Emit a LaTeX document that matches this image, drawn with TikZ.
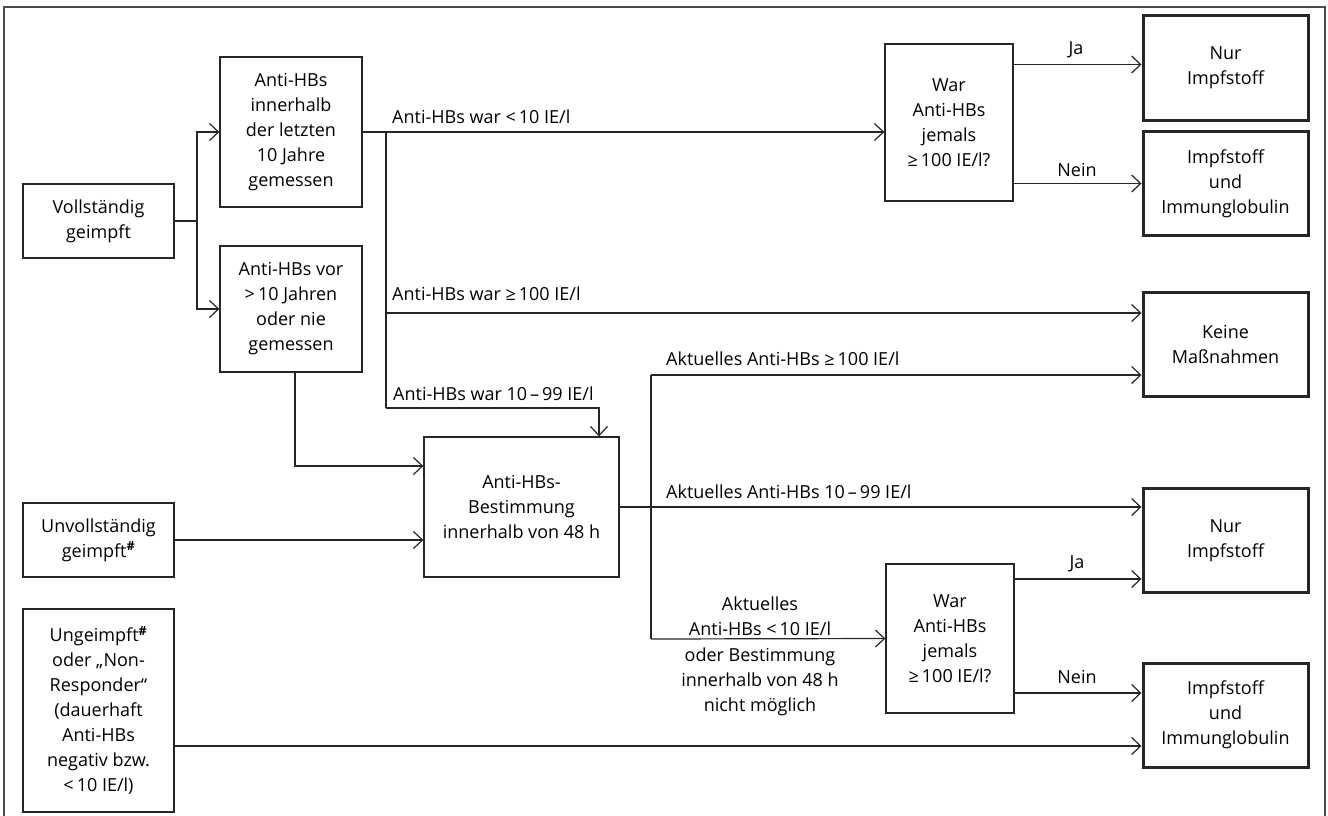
\documentclass[tikz,border=0pt]{standalone}
\usepackage{fontspec}
\setmainfont{Open Sans}
\usetikzlibrary{arrows.meta}

\begin{document}
\begin{tikzpicture}[x=1pt, y=-1pt,
    font=\fontsize{18}{25}\selectfont,
    box/.style={draw=black!85, line width=1.3pt, align=center, inner sep=0pt},
    result/.style={box, line width=3pt, minimum width=165pt, minimum height=104pt},
    link/.style={draw=black!85, line width=1.2pt},
    arr/.style={link, -{Straight Barb[length=9pt, width=17pt, line width=1.2pt]}},
    lab/.style={anchor=base west, inner sep=0pt}]
  \useasboundingbox (0,0) rectangle (1328,816);
  \draw[black!70, line width=1.5pt] (4,900) -- (4,7) -- (1325,7) -- (1325,900);

  % starting points
  \node[box, minimum width=151pt, minimum height=74pt] (voll) at (98.5,221)
    {Vollständig\\geimpft};
  \node[box, minimum width=151pt, minimum height=74pt] (unvoll) at (98.5,540)
    {Unvollständig\\geimpft\textsuperscript{\textbf{\#}}};
  \node[box, minimum width=151pt, minimum height=203pt] (unge) at (98.5,710.5)
    {Ungeimpft\textsuperscript{\textbf{\#}}\\oder „Non-\\Responder“\\(dauerhaft\\Anti-HBs\\negativ bzw.\\<\,10 IE/l)};

  % checks
  \node[box, minimum width=142pt, minimum height=150pt] (innen) at (291,132)
    {Anti-HBs\\innerhalb\\der letzten\\10 Jahre\\gemessen};
  \node[box, minimum width=142pt, minimum height=126pt] (vor) at (291,309)
    {Anti-HBs vor\\>\,10 Jahren\\oder nie\\gemessen};
  \node[box, minimum width=195pt, minimum height=140pt] (best) at (521.5,507)
    {Anti-HBs-\\Bestimmung\\innerhalb von 48 h};
  \node[box, minimum width=128pt, minimum height=157pt] (war1) at (949,122.5)
    {War\\Anti-HBs\\jemals\\≥\,100 IE/l?};
  \node[box, minimum width=128pt, minimum height=149pt] (war2) at (950,638.5)
    {War\\Anti-HBs\\jemals\\≥\,100 IE/l?};

  % outcomes
  \node[result] (nur1) at (1225.5,68) {Nur\\Impfstoff};
  \node[result] (iu1) at (1225.5,183.5) {Impfstoff\\und\\Immunglobulin};
  \node[result] (keine) at (1225.5,344.5) {Keine\\Maßnahmen};
  \node[result] (nur2) at (1225.5,540.5) {Nur\\Impfstoff};
  \node[result] (iu2) at (1225.5,715) {Impfstoff\\und\\Immunglobulin};

  % branch points
  \coordinate (fork) at (197,221);
  \coordinate (split) at (386,132);
  \coordinate (hi100) at (386,313);
  \coordinate (splitlow) at (386,408);
  \coordinate (bend) at (599,408);
  \coordinate (top2) at (651,375);
  \coordinate (bot2) at (651,639);

  \draw[arr] (voll.east) -- (fork) |- (innen.west);
  \draw[arr] (fork) |- (vor.west);
  \draw[arr] (innen.east) -- (war1.west |- innen.east);
  \draw[link] (split) -- (splitlow);
  \draw[arr] (hi100) -- (hi100 -| keine.west);
  \draw[arr] (splitlow) -- (bend) -- (bend |- best.north);
  \draw[arr] ([xshift=4pt]vor.south) |- ([yshift=41pt]best.west);
  \draw[arr] (unvoll.east) -- (unvoll.east -| best.west);
  \draw[arr] ([yshift=-35.5pt]unge.east) -- ([yshift=-35.5pt]unge.east -| iu2.west);

  \draw[arr] (best.east) -- (best.east -| nur2.west);
  \draw[link] (top2) -- (bot2);
  \draw[arr] (top2) -- (top2 -| keine.west);
  \draw[arr] (bot2) -- (war2.west);

  \draw[arr] ([yshift=3.5pt]war1.east |- nur1.west) -- ([yshift=3.5pt]nur1.west);
  \draw[arr] (war1.east |- iu1.west) -- (iu1.west);
  \draw[arr] ([yshift=-38.5pt]war2.east |- nur2.west) -- ([yshift=-38.5pt]nur2.west);
  \draw[arr] ([yshift=22pt]war2.east |- iu2.west) -- ([yshift=22pt]iu2.west);

  % labels
  \node[lab] (lbllt) at (392,123) {Anti-HBs war <\,10 IE/l};
  \node[lab] (lblhi) at (392,300) {Anti-HBs war ≥\,100 IE/l};
  \node[lab] (lblmid) at (393,400) {Anti-HBs war 10\,–\,99 IE/l};
  \node[lab] (lblakthi) at (666,365) {Aktuelles Anti-HBs ≥\,100 IE/l};
  \node[lab] (lblaktmid) at (666,498) {Aktuelles Anti-HBs 10\,–\,99 IE/l};
  \node[align=center, anchor=south, inner sep=0pt] (lblaktlt) at (760,636)
    {Aktuelles\\Anti-HBs <\,10 IE/l};
  \node[align=center, anchor=north, inner sep=0pt] (lblnone) at (760,648)
    {oder Bestimmung\\innerhalb von 48 h\\nicht möglich};
  \node[anchor=base, inner sep=0pt] (ja1) at (1076,55) {Ja};
  \node[anchor=base, inner sep=0pt] (nein1) at (1077,176) {Nein};
  \node[anchor=base, inner sep=0pt] (ja2) at (1077,568) {Ja};
  \node[anchor=base, inner sep=0pt] (nein2) at (1077,683) {Nein};
\end{tikzpicture}
\end{document}
